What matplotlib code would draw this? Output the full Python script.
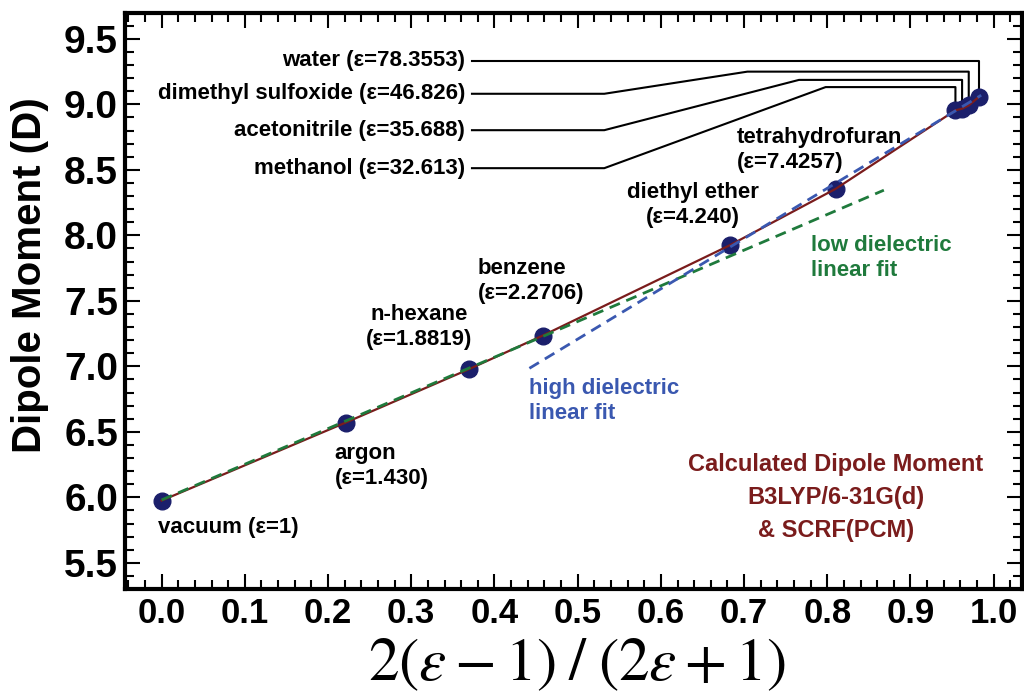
import matplotlib
matplotlib.use("Agg")
import matplotlib.pyplot as plt
from matplotlib.ticker import MultipleLocator

plt.rcParams["font.family"] = ["Liberation Sans", "DejaVu Sans"]
plt.rcParams["mathtext.fontset"] = "stix"

# solvent data: Onsager function 2(e-1)/(2e+1) vs dipole moment
solvents = ["vacuum", "argon", "n-hexane", "benzene", "diethyl ether",
            "tetrahydrofuran", "methanol", "acetonitrile", "dimethyl sulfoxide", "water"]
eps_text = ["1", "1.430", "1.8819", "2.2706", "4.240", "7.4257",
            "32.613", "35.688", "46.826", "78.3553"]
onsager = [0.0, 0.221, 0.370, 0.458, 0.683, 0.810, 0.954, 0.962, 0.970, 0.982]
dipole = [5.975, 6.57, 6.98, 7.235, 7.925, 8.355, 8.955, 8.967, 8.992, 9.056]

# linear fits (end points)
low_fit_x = [0.0, 0.868]
low_fit_y = [5.98, 8.345]
high_fit_x = [0.442, 0.985]
high_fit_y = [6.985, 9.07]

x_ticks = [0.0, 0.1, 0.2, 0.3, 0.4, 0.5, 0.6, 0.7, 0.8, 0.9, 1.0]
y_ticks = [5.5, 6.0, 6.5, 7.0, 7.5, 8.0, 8.5, 9.0, 9.5]

RED = "#7a1c1c"
GREEN = "#1f7a3c"
BLUE = "#3a58b0"
NAVY = "#1b1f6b"

fig = plt.figure(figsize=(10.24, 6.94), dpi=100)
ax = fig.add_axes([125 / 1024, 1 - 589 / 694, 897 / 1024, (589 - 12.7) / 694])

ax.plot(onsager, dipole, "o", color=NAVY, markersize=12, zorder=2)
ax.plot(onsager, dipole, "-", color=RED, lw=1.6, zorder=3)
ax.plot(low_fit_x, low_fit_y, "--", color=GREEN, lw=2, dashes=(4, 2.5), zorder=4)
ax.plot(high_fit_x, high_fit_y, "--", color=BLUE, lw=2, dashes=(4, 2.5), zorder=4)

ax.set_xlim(-0.044, 1.034)
ax.set_ylim(5.3, 9.7)
ax.set_xticks(x_ticks)
ax.set_yticks(y_ticks)
ax.xaxis.set_minor_locator(MultipleLocator(0.02))
ax.yaxis.set_minor_locator(MultipleLocator(0.1))
ax.set_xticklabels([f"{v:.1f}" for v in x_ticks], fontweight="bold", fontsize=25)
ax.set_yticklabels([f"{v:.1f}" for v in y_ticks], fontweight="bold", fontsize=28)
ax.tick_params(which="both", direction="in", top=True, right=True, width=1.5)
ax.tick_params(which="major", length=11)
ax.tick_params(which="minor", length=6.5)
ax.tick_params(axis="x", pad=6)
ax.tick_params(axis="y", pad=5)
for sp in ax.spines.values():
    sp.set_linewidth(3)

fig.text(30 / 1024, 1 - 275 / 694, "Dipole Moment (D)", rotation=90,
         ha="center", va="center", fontsize=29, fontweight="bold")
fig.text(577 / 1024, 1 - 665 / 694, r"$2(\varepsilon-1)\;/\;(2\varepsilon+1)$",
         ha="center", va="center", fontsize=44)

lab = dict(fontsize=16, fontweight="bold", color="black", linespacing=1.25)

def tag(i):
    return f"(\u03b5={eps_text[i]})"

ax.text(-0.0044, 5.773, f"{solvents[0]} {tag(0)}", ha="left", va="center", **lab)
ax.text(0.208, 6.240, f"{solvents[1]}\n{tag(1)}", ha="left", va="center", **lab)
ax.text(0.310, 7.30, f"{solvents[2]}\n{tag(2)}", ha="center", va="center", **lab)
ax.text(0.380, 7.655, f"{solvents[3]}\n{tag(3)}", ha="left", va="center", **lab)
ax.text(0.638, 8.229, f"{solvents[4]}\n{tag(4)}", ha="center", va="center", **lab)
ax.text(0.691, 8.653, f"{solvents[5]}\n{tag(5)}", ha="left", va="center", **lab)

# high-dielectric solvents labelled on the left with leader lines
label_y = {9: 9.333, 8: 9.081, 7: 8.803, 6: 8.513}
level_y = {9: 9.333, 8: 9.25, 7: 9.187, 6: 9.132}
knee_x = {9: 0.532, 8: 0.704, 7: 0.766, 6: 0.798}
for i in (9, 8, 7, 6):
    ax.text(0.365, label_y[i], f"{solvents[i]} {tag(i)}", ha="right", va="center",
            fontsize=16, fontweight="bold")
    xs = [0.373, 0.532, knee_x[i], onsager[i], onsager[i]]
    ys = [label_y[i], label_y[i], level_y[i], level_y[i], dipole[i]]
    ax.plot(xs, ys, "-", color="black", lw=1.5, zorder=1)

ax.text(0.781, 7.825, "low dielectric\nlinear fit", ha="left", va="center",
        color=GREEN, fontsize=16, fontweight="bold", linespacing=1.25)
ax.text(0.442, 6.733, "high dielectric\nlinear fit", ha="left", va="center",
        color=BLUE, fontsize=16, fontweight="bold", linespacing=1.25)
ax.text(0.810, 6.0, "Calculated Dipole Moment\nB3LYP/6-31G(d)\n& SCRF(PCM)",
        ha="center", va="center", color=RED, fontsize=17, fontweight="bold",
        linespacing=1.55)

fig.savefig("out.png", dpi=100)
